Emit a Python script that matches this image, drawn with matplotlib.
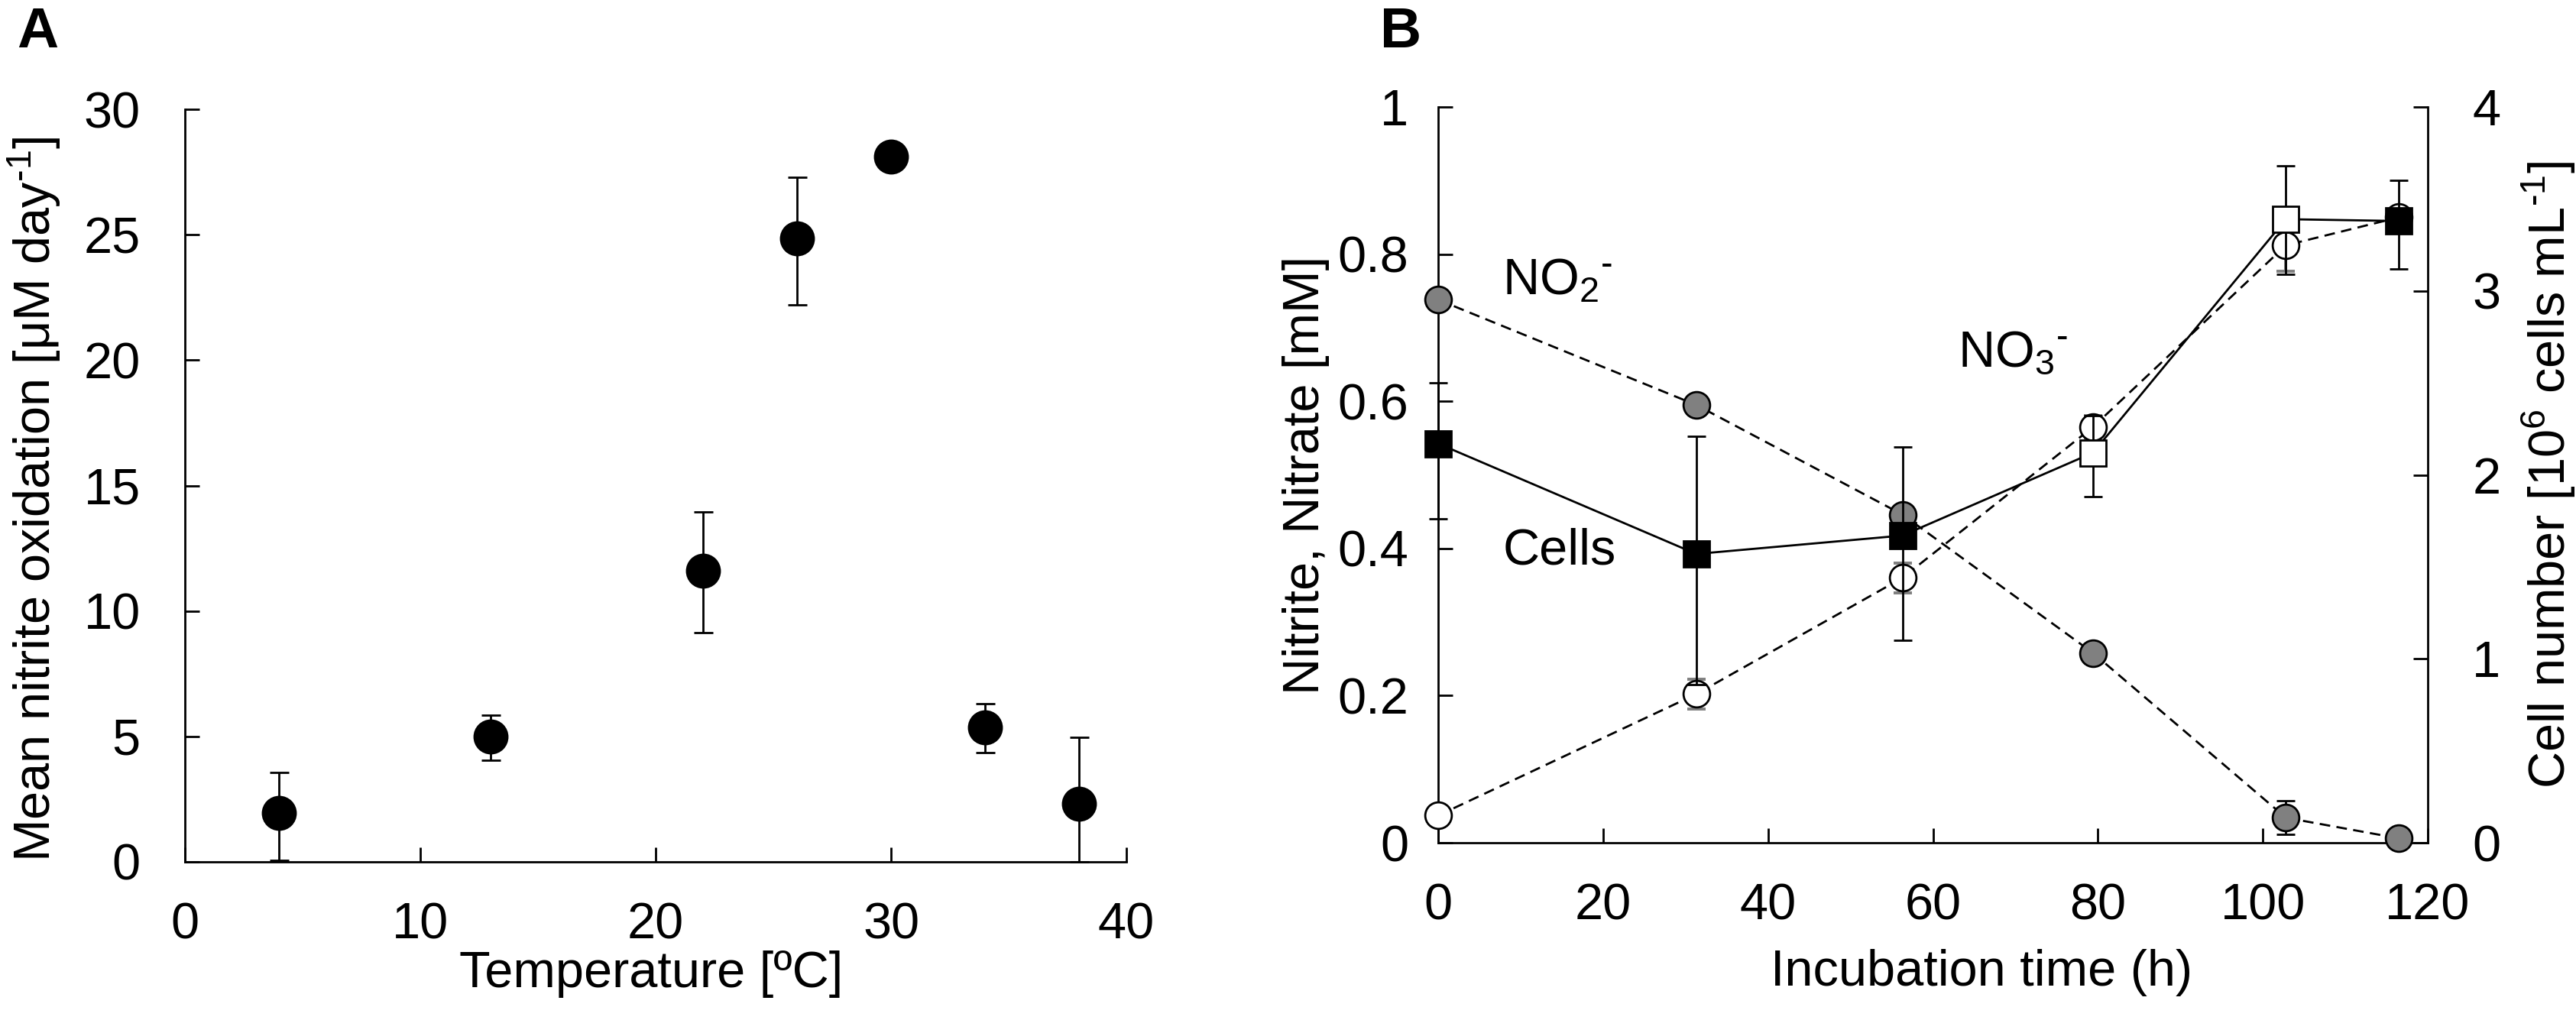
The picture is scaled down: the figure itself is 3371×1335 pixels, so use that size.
import matplotlib
matplotlib.use('Agg')
import matplotlib.pyplot as plt

plt.rcParams['font.family'] = ['Liberation Sans', 'DejaVu Sans']
plt.rcParams['mathtext.fontset'] = 'custom'
plt.rcParams['mathtext.rm'] = 'Liberation Sans'
plt.rcParams['mathtext.it'] = 'Liberation Sans:italic'
plt.rcParams['mathtext.bf'] = 'Liberation Sans:bold'

# ---- Panel A data ----
temp = [4, 13, 22, 26, 30, 34, 38]
rate = [1.95, 5.0, 11.6, 24.85, 28.1, 5.36, 2.3]
rate_err_lo = [1.9, 0.95, 2.45, 2.65, 0.5, 1.0, 2.3]
rate_err_hi = [1.6, 0.85, 2.35, 2.45, 0.3, 0.95, 2.65]

# ---- Panel B data ----
time_h = [0, 31.3, 56.3, 79.4, 102.8, 116.5]
nitrite = [0.738, 0.595, 0.446, 0.258, 0.034, 0.006]
nitrite_err = [0.008, 0.012, 0.01, 0.01, 0.023, 0.004]
nitrate = [0.037, 0.202, 0.360, 0.565, 0.812, 0.850]
nitrate_err = [0.005, 0.02, 0.02, 0.015, 0.035, 0.01]
cells = [2.17, 1.57, 1.67, 2.12, 3.39, 3.38]
cells_err_lo = [0.41, 0.71, 0.57, 0.24, 0.30, 0.26]
cells_err_hi = [0.33, 0.64, 0.48, 0.20, 0.29, 0.22]
cells_open = [False, False, False, True, True, False]

W, H = 3371, 1335
DPI = 200
fig = plt.figure(figsize=(W / DPI, H / DPI), dpi=DPI)

FS = 24
LW = 1.0

def px_axes(l, r, t, b):
    return [l / W, 1 - b / H, (r - l) / W, (b - t) / H]

# ================= Panel A =================
axA = fig.add_axes(px_axes(242, 1474, 143, 1128))
axA.errorbar(temp, rate, yerr=[rate_err_lo, rate_err_hi], fmt='o', color='black',
             ms=15.5, ecolor='black', elinewidth=LW, capsize=4.5, capthick=LW,
             clip_on=False, zorder=3)
axA.set_xlim(0, 40)
axA.set_ylim(0, 30)
axA.set_xticks([0, 10, 20, 30, 40])
axA.set_yticks([0, 5, 10, 15, 20, 25, 30])
for s in ['top', 'right']:
    axA.spines[s].set_visible(False)
for s in ['left', 'bottom']:
    axA.spines[s].set_linewidth(LW)
axA.tick_params(axis='both', direction='in', length=6.8, width=LW, labelsize=FS)
axA.tick_params(axis='x', pad=19)
axA.tick_params(axis='y', pad=21)
axA.set_xlabel('Temperature [ºC]', fontsize=FS)
axA.set_ylabel(r'Mean nitrite oxidation [μM day$^{\text{-1}}$]', fontsize=FS)
axA.xaxis.set_label_coords(0.495, -0.118)
axA.yaxis.set_label_coords(-0.130, 0.482)

# ================= Panel B =================
axB = fig.add_axes(px_axes(1882, 3177, 140, 1103))
axB2 = axB.twinx()

axB.errorbar(time_h, nitrite, yerr=nitrite_err, fmt='none', ecolor='black',
             elinewidth=LW, capsize=4.3, capthick=LW, zorder=2)
axB.errorbar(time_h, nitrate, yerr=nitrate_err, fmt='none', ecolor='#7f7f7f',
             elinewidth=LW * 1.4, capsize=4.3, capthick=LW * 1.4, zorder=2)
axB.plot(time_h, nitrite, linestyle=(0, (5, 3)), color='black', lw=LW,
         marker='o', ms=12.5, mfc='#808080', mec='black', mew=LW,
         clip_on=False, zorder=3)
axB.plot(time_h, nitrate, linestyle=(0, (5, 3)), color='black', lw=LW,
         marker='o', ms=12.5, mfc='white', mec='black', mew=LW,
         clip_on=False, zorder=3)

axB.text(7.8, 0.745, r'NO$_{\text{2}}$$^{\text{-}}$', fontsize=FS,
         ha='left', va='baseline')
axB.text(63.0, 0.647, r'NO$_{\text{3}}$$^{\text{-}}$', fontsize=FS,
         ha='left', va='baseline')
axB.text(7.8, 0.379, 'Cells', fontsize=FS, ha='left', va='baseline')

axB2.plot(time_h, cells, '-', color='black', lw=LW, zorder=2)
axB2.errorbar(time_h, cells, yerr=[cells_err_lo, cells_err_hi], fmt='none',
              ecolor='black', elinewidth=LW, capsize=4.3, capthick=LW, zorder=3,
              clip_on=False)
t_fill = [t for t, o in zip(time_h, cells_open) if not o]
c_fill = [c for c, o in zip(cells, cells_open) if not o]
t_open = [t for t, o in zip(time_h, cells_open) if o]
c_open = [c for c, o in zip(cells, cells_open) if o]
axB2.plot(t_fill, c_fill, linestyle='none', marker='s', ms=12.5, mfc='black',
          mec='black', mew=LW, clip_on=False, zorder=4)
axB2.plot(t_open, c_open, linestyle='none', marker='s', ms=12.5, mfc='white',
          mec='black', mew=LW, clip_on=False, zorder=4)

axB.set_xlim(0, 120)
axB.set_ylim(0, 1)
axB2.set_ylim(0, 4)
axB.set_xticks([0, 20, 40, 60, 80, 100, 120])
axB.set_yticks([0, 0.2, 0.4, 0.6, 0.8, 1])
axB.set_yticklabels(['0', '0.2', '0.4', '0.6', '0.8', '1'])
axB2.set_yticks([0, 1, 2, 3, 4])

axB.spines['top'].set_visible(False)
axB.spines['right'].set_visible(False)
axB2.spines['top'].set_visible(False)
axB2.spines['left'].set_visible(False)
axB2.spines['bottom'].set_visible(False)
for s in ['left', 'bottom']:
    axB.spines[s].set_linewidth(LW)
axB2.spines['right'].set_linewidth(LW)

axB.tick_params(axis='both', direction='in', length=6.8, width=LW, labelsize=FS)
axB.tick_params(axis='x', pad=19)
axB.tick_params(axis='y', pad=14)
axB2.tick_params(axis='y', direction='in', length=6.8, width=LW, labelsize=FS, pad=21)

axB.set_xlabel('Incubation time (h)', fontsize=FS)
axB.set_ylabel('Nitrite, Nitrate [mM]', fontsize=FS)
axB2.set_ylabel(r'Cell number [10$^{\text{6}}$ cells mL$^{\text{-1}}$]', fontsize=FS)
axB.xaxis.set_label_coords(0.549, -0.1443)
axB.yaxis.set_label_coords(-0.110, 0.5)
axB2.yaxis.set_label_coords(1.093, 0.5)

fig.text(22 / W, 1 - 8 / H, 'A', fontsize=27, fontweight='bold', ha='left', va='top')
fig.text(1806 / W, 1 - 8 / H, 'B', fontsize=27, fontweight='bold', ha='left', va='top')

fig.savefig('out.png', dpi=DPI)
